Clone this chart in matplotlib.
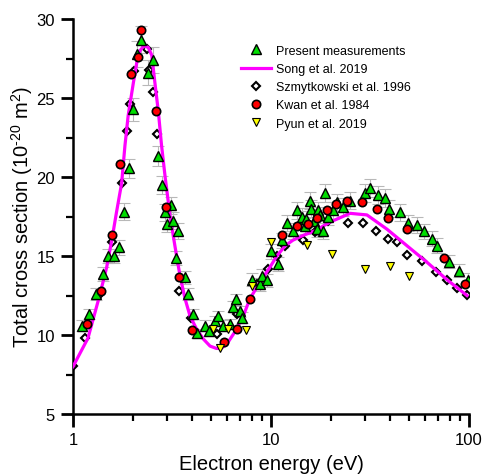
import matplotlib
matplotlib.use("Agg")
import matplotlib.pyplot as plt
import numpy as np
from matplotlib.ticker import FixedLocator, NullFormatter, FixedFormatter

plt.rcParams['font.family'] = ['Liberation Sans', 'DejaVu Sans']
plt.rcParams['mathtext.fontset'] = 'custom'
plt.rcParams['mathtext.rm'] = 'Liberation Sans'
plt.rcParams['mathtext.it'] = 'Liberation Sans:italic'

# Present measurements
present_E = [1.11, 1.21, 1.31, 1.41, 1.51, 1.61, 1.71, 1.81, 1.92, 2.01, 2.10, 2.21, 2.40, 2.53,
             2.70, 2.80, 2.92, 2.99, 3.11, 3.21, 3.31, 3.41, 3.68, 3.83, 4.02, 4.21, 4.64, 4.88,
             5.22, 5.42, 5.75, 6.2, 6.45, 6.64, 6.95, 7.1, 8.0, 8.8, 9.0, 9.5, 9.96, 10.9, 11.3,
             12.0, 12.95, 13.5, 14.3, 14.8, 15.1, 15.7, 16.0, 16.5, 17.0, 17.3, 17.7, 18.3, 18.8,
             19.5, 20.6, 21.5, 23.1, 25.1, 29.8, 31.8, 34.8, 37.7, 39.5, 44.6, 49.2, 54.4, 59.3,
             65.0, 69.3, 79.4, 89.4, 99.3]
present_sigma = [10.6, 11.33, 12.6, 13.86, 14.98, 14.98, 15.55, 17.8, 20.55, 24.3, 27.8, 28.7, 26.6, 27.4,
                 21.35, 19.5, 17.76, 17.0, 18.2, 17.24, 14.9, 16.6, 13.65, 12.6, 11.33, 10.1, 10.6, 10.27,
                 10.9, 11.2, 10.6, 10.7, 11.8, 12.25, 11.5, 11.1, 13.5, 13.2, 13.75, 13.45, 15.3, 14.5, 16.0,
                 17.1, 16.6, 17.9, 17.5, 16.9, 17.34, 18.5, 18.0, 17.2, 16.7, 17.88, 17.6, 16.6, 19.0,
                 17.5, 17.9, 18.4, 18.1, 18.5, 19.0, 19.3, 18.86, 18.65, 18.0, 17.76, 17.1, 16.96, 16.56,
                 16.1, 15.65, 14.65, 14.07, 13.5]
present_err_frac = 0.03

# Song et al. 2019
song_E = [1.0, 1.19, 1.37, 1.48, 1.57, 1.66, 1.76, 1.83, 1.90, 2.02, 2.10, 2.18, 2.28, 2.40, 2.50,
          2.59, 2.70, 2.80, 2.92, 3.09, 3.27, 3.47, 3.68, 3.90, 4.20, 4.55, 4.92, 5.3, 5.6, 6.0,
          6.57, 7.24, 7.83, 8.80, 9.89, 10.7, 11.8, 12.9, 14.5, 16.7, 19.9, 25.1, 30.5, 38.5,
          48.6, 61.4, 77.4, 97.7]
song_sigma = [8.0, 9.8, 12.6, 14.3, 16.0, 17.8, 19.6, 22.0, 23.9, 26.0, 27.25, 28.0, 28.3, 28.2, 27.7,
              26.0, 24.1, 22.0, 20.0, 17.55, 15.65, 13.75, 12.3, 11.2, 10.4, 9.75, 9.3, 9.15, 9.15, 9.45,
              10.2, 11.2, 12.3, 13.35, 14.3, 15.0, 15.65, 16.0, 16.3, 16.6, 17.15, 17.7, 17.6, 16.7,
              15.65, 14.6, 13.5, 12.5]

# Szmytkowski et al. 1996
szm_E = [1.0, 1.15, 1.37, 1.57, 1.76, 1.87, 1.94, 2.03, 2.36, 2.43, 2.53, 2.67, 3.45, 3.93, 5.35,
         6.7, 8.45, 9.7, 10.7, 11.8, 14.5, 16.7, 19.5, 24.4, 29.3, 33.9, 38.9, 43.4, 48.5, 57.6,
         67.8, 77.3, 87.1, 98.2]
szm_sigma = [8.05, 9.8, 12.6, 15.9, 19.6, 22.9, 24.6, 26.7, 28.1, 26.8, 25.4, 22.7, 12.8, 11.05, 10.06,
             11.3, 13.2, 14.2, 15.0, 15.65, 16.0, 16.55, 17.2, 17.1, 17.1, 16.6, 16.1, 15.9, 15.05, 14.7,
             14.0, 13.5, 12.97, 12.55]

# Kwan et al. 1984
kwan_E = [1.17, 1.38, 1.57, 1.73, 1.96, 2.14, 2.2, 2.63, 2.95, 3.45, 3.97, 5.8, 6.7, 7.83, 11.3,
          13.5, 15.4, 17.1, 19.1, 21.2, 24.3, 28.7, 34.2, 38.9, 48.8, 74.9, 96.0]
kwan_sigma = [10.7, 12.8, 16.3, 20.8, 26.5, 27.6, 29.3, 24.2, 18.1, 13.65, 10.3, 9.55, 10.4, 12.3, 16.3,
              16.9, 17.0, 17.4, 17.9, 18.3, 18.5, 18.4, 18.0, 17.4, 16.7, 14.85, 13.2]

# Pyun et al. 2019
pyun_E = [5.07, 5.53, 6.1, 7.5, 8.0, 10.0, 15.2, 20.3, 29.8, 39.9, 50.0]
pyun_sigma = [10.4, 9.2, 10.4, 10.3, 13.1, 15.9, 15.7, 15.1, 14.2, 14.35, 13.75]

fig = plt.figure(figsize=(4.85, 4.77), dpi=100)
ax = fig.add_axes([73/485, 1-415/477, 396/485, 395/477])

pE = np.array(present_E)
pS = np.array(present_sigma)
ax.errorbar(pE, pS, yerr=pS*present_err_frac, fmt='none', ecolor='#b8b8b8',
            elinewidth=0.8, capsize=4, capthick=0.8, zorder=1)
ax.plot(szm_E, szm_sigma, linestyle='none', marker='D', ms=4.5, mfc='none', mec='black',
        mew=1.5, zorder=2, label='Szmytkowski et al. 1996')
ax.plot(song_E, song_sigma, color='#ff00ff', lw=2.3, zorder=3, label='Song et al. 2019')
ax.plot(pE, pS, linestyle='none', marker='^', ms=7.5, mfc='#00dd00', mec='black',
        mew=1.0, zorder=4, label='Present measurements')
ax.plot(kwan_E, kwan_sigma, linestyle='none', marker='o', ms=6, mfc='#ff0000', mec='black',
        mew=1.2, zorder=5, label='Kwan et al. 1984')
ax.plot(pyun_E, pyun_sigma, linestyle='none', marker='v', ms=6, mfc='#ffff00', mec='black',
        mew=0.8, zorder=6, label='Pyun et al. 2019')

ax.set_xscale('log')
ax.set_xlim(1, 100)
ax.set_ylim(5, 30)

for s in ['top', 'right']:
    ax.spines[s].set_visible(False)
for s in ['left', 'bottom']:
    ax.spines[s].set_linewidth(1.8)

ax.xaxis.set_major_locator(FixedLocator([1, 10, 100]))
ax.xaxis.set_major_formatter(FixedFormatter(['1', '10', '100']))
minors = [m * d for d in (1, 10) for m in range(2, 10)]
ax.xaxis.set_minor_locator(FixedLocator(minors))
ax.xaxis.set_minor_formatter(NullFormatter())
ax.yaxis.set_major_locator(FixedLocator([5, 10, 15, 20, 25, 30]))
ax.yaxis.set_minor_locator(FixedLocator([7.5, 12.5, 17.5, 22.5, 27.5]))

ax.tick_params(which='major', direction='out', length=9, width=2, labelsize=12, pad=4)
ax.tick_params(which='minor', direction='out', length=5, width=1.6)

ax.set_xlabel('Electron energy (eV)', fontsize=14.5, labelpad=5)
ax.set_ylabel(r'Total cross section (10$^{\text{-}20}$ m$^{2}$)', fontsize=14.5, labelpad=1)

handles, labels = ax.get_legend_handles_labels()
order = ['Present measurements', 'Song et al. 2019', 'Szmytkowski et al. 1996',
         'Kwan et al. 1984', 'Pyun et al. 2019']
hmap = dict(zip(labels, handles))
leg = ax.legend([hmap[l] for l in order], order, loc='upper left',
                bbox_to_anchor=(0.423, 0.935), frameon=False, fontsize=9,
                borderpad=0, borderaxespad=0, labelspacing=0.5, handlelength=2.4,
                handletextpad=0.4, numpoints=1)

fig.savefig('out.png', dpi=100)
